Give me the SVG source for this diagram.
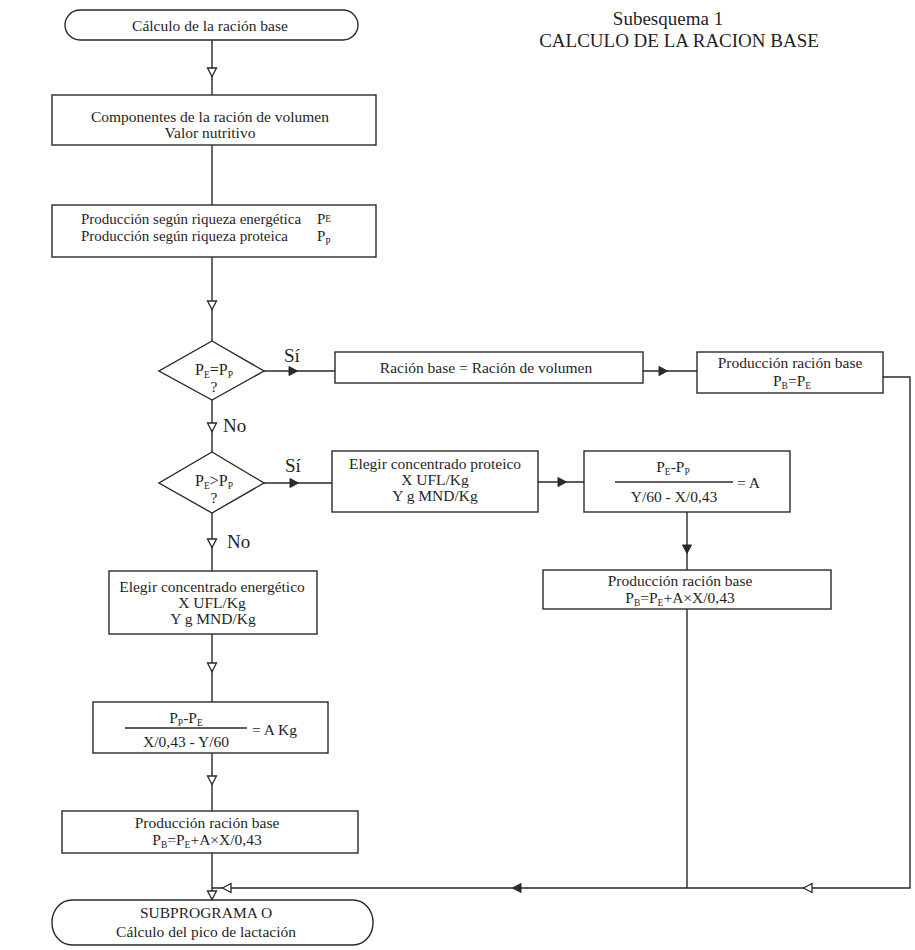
<svg xmlns="http://www.w3.org/2000/svg" width="915" height="950" viewBox="0 0 915 950">
<style>
.box{fill:#fff;stroke:#2a2a2a;stroke-width:1.4}
.ln{fill:none;stroke:#2a2a2a;stroke-width:1.4}
.t{font-family:"Liberation Serif","Times New Roman",serif;font-size:15.5px;fill:#1f1f1f}
.c{text-anchor:middle}
.lbl{font-size:19px}
.ttl{font-size:19px}
.sub{font-size:9.5px}
.ao{fill:#fff;stroke:#2a2a2a;stroke-width:1.3}
.af{fill:#2a2a2a;stroke:#2a2a2a;stroke-width:1}
</style>
<defs>
<path id="ad" d="M-4.5,-4 L4.5,-4 L0,4.5 Z"/>
</defs>
<rect width="915" height="950" fill="#fff"/>

<g id="title">
<text class="t ttl c" x="668" y="25">Subesquema 1</text>
<text class="t ttl c" x="679" y="47">CALCULO DE LA RACION BASE</text>
</g>

<g id="connectors">
<path class="ln" d="M212,40 V95 M212,145 V205 M212,257 V341 M212,400 V452 M212,513 V571 M212,634 V702 M212,753 V811 M212,853 V900"/>
<path class="ln" d="M264,371 H335 M643,371 H697 M883,377 H910 V888 H212"/>
<path class="ln" d="M264,483 H332 M538,482 H584 M687,512 V570 M687,609 V888"/>
<use href="#ad" class="ao" transform="translate(212,72)"/>
<use href="#ad" class="ao" transform="translate(212,305)"/>
<use href="#ad" class="ao" transform="translate(212,427)"/>
<use href="#ad" class="ao" transform="translate(212,543)"/>
<use href="#ad" class="ao" transform="translate(212,667)"/>
<use href="#ad" class="ao" transform="translate(212,780)"/>
<use href="#ad" class="ao" transform="translate(212,895)"/>
<use href="#ad" class="af" transform="translate(293,371) rotate(-90)"/>
<use href="#ad" class="af" transform="translate(663,371) rotate(-90)"/>
<use href="#ad" class="af" transform="translate(294,483) rotate(-90)"/>
<use href="#ad" class="af" transform="translate(562,482) rotate(-90)"/>
<use href="#ad" class="af" transform="translate(687,549)"/>
<use href="#ad" class="af" transform="translate(517,888) rotate(90)"/>
<use href="#ad" class="ao" transform="translate(808,888) rotate(90)"/>
<use href="#ad" class="ao" transform="translate(227,888) rotate(90)"/>
<text class="t lbl" x="284" y="362">Sí</text>
<text class="t lbl" x="223" y="432">No</text>
<text class="t lbl" x="285" y="472">Sí</text>
<text class="t lbl" x="227" y="548">No</text>
</g>

<g id="start">
<rect class="box" x="65" y="10" width="293" height="30" rx="15" ry="15"/>
<text class="t c" x="210" y="31">Cálculo de la ración base</text>
</g>

<g id="componentes">
<rect class="box" x="52" y="95" width="324" height="50"/>
<text class="t c" x="210" y="122">Componentes de la ración de volumen</text>
<text class="t c" x="210" y="138">Valor nutritivo</text>
</g>

<g id="produccion-riqueza">
<rect class="box" x="52" y="205" width="324" height="52"/>
<text class="t" x="81" y="224" style="font-size:15px">Producción según riqueza energética <tspan x="317">P</tspan><tspan class="sub" dy="-2">E</tspan></text>
<text class="t" x="81" y="241" style="font-size:15px">Producción según riqueza proteica <tspan x="317">P</tspan><tspan class="sub" dy="4">P</tspan></text>
</g>

<g id="decision1">
<polygon class="box" points="212,341 264,371 212,400 159,371"/>
<text class="t c" x="214" y="375" style="font-size:16px">P<tspan class="sub" dy="3">E</tspan><tspan dy="-3">=P</tspan><tspan class="sub" dy="3">P</tspan></text>
<text class="t c" x="214" y="392">?</text>
</g>

<g id="racion-base">
<rect class="box" x="335" y="352" width="308" height="31"/>
<text class="t c" x="486" y="373">Ración base = Ración de volumen</text>
</g>

<g id="produccion-pb-pe">
<rect class="box" x="697" y="352" width="186" height="41"/>
<text class="t c" x="790" y="368">Producción ración base</text>
<text class="t c" x="792" y="386">P<tspan class="sub" dy="3">B</tspan><tspan dy="-3">=P</tspan><tspan class="sub" dy="3">E</tspan></text>
</g>

<g id="decision2">
<polygon class="box" points="212,452 264,483 212,513 159,483"/>
<text class="t c" x="214" y="486" style="font-size:16px">P<tspan class="sub" dy="3">E</tspan><tspan dy="-3">&gt;P</tspan><tspan class="sub" dy="3">P</tspan></text>
<text class="t c" x="214" y="503">?</text>
</g>

<g id="elegir-proteico">
<rect class="box" x="332" y="451" width="206" height="61"/>
<text class="t c" x="435" y="469">Elegir concentrado proteico</text>
<text class="t c" x="435" y="485">X UFL/Kg</text>
<text class="t c" x="435" y="501">Y g MND/Kg</text>
</g>

<g id="formula-a">
<rect class="box" x="584" y="451" width="206" height="61"/>
<text class="t c" x="673" y="472">P<tspan class="sub" dy="3">E</tspan><tspan dy="-3">-P</tspan><tspan class="sub" dy="3">P</tspan></text>
<line class="ln" x1="615" y1="482" x2="733" y2="482"/>
<text class="t c" x="674" y="502">Y/60 - X/0,43</text>
<text class="t" x="737" y="488">= A</text>
</g>

<g id="produccion-proteico">
<rect class="box" x="543" y="570" width="288" height="39"/>
<text class="t c" x="680" y="586">Producción ración base</text>
<text class="t c" x="680" y="603">P<tspan class="sub" dy="3">B</tspan><tspan dy="-3">=P</tspan><tspan class="sub" dy="3">E</tspan><tspan dy="-3">+A×X/0,43</tspan></text>
</g>

<g id="elegir-energetico">
<rect class="box" x="109" y="571" width="208" height="63"/>
<text class="t c" x="212" y="592">Elegir concentrado energético</text>
<text class="t c" x="212" y="608">X UFL/Kg</text>
<text class="t c" x="213" y="624">Y g MND/Kg</text>
</g>

<g id="formula-akg">
<rect class="box" x="93" y="702" width="235" height="51"/>
<text class="t c" x="186" y="723">P<tspan class="sub" dy="3">P</tspan><tspan dy="-3">-P</tspan><tspan class="sub" dy="3">E</tspan></text>
<line class="ln" x1="125" y1="728" x2="247" y2="728"/>
<text class="t c" x="186" y="747">X/0,43 - Y/60</text>
<text class="t" x="252" y="735">= A Kg</text>
</g>

<g id="produccion-energetico">
<rect class="box" x="62" y="811" width="296" height="42"/>
<text class="t c" x="207" y="828">Producción ración base</text>
<text class="t c" x="207" y="845">P<tspan class="sub" dy="3">B</tspan><tspan dy="-3">=P</tspan><tspan class="sub" dy="3">E</tspan><tspan dy="-3">+A×X/0,43</tspan></text>
</g>

<g id="end">
<rect class="box" x="52" y="900" width="321" height="45" rx="20" ry="22"/>
<text class="t c" x="206" y="918">SUBPROGRAMA O</text>
<text class="t c" x="206" y="937">Cálculo del pico de lactación</text>
</g>
</svg>
